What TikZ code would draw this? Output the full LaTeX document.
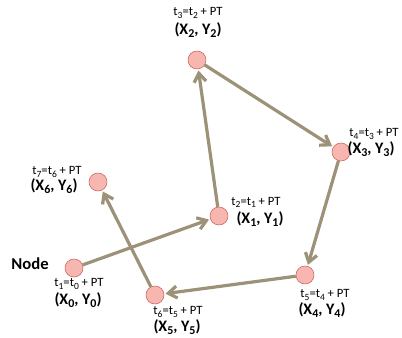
\documentclass[tikz,border=0pt]{standalone}
\usepackage{fontspec}
\setmainfont{Carlito}
\usetikzlibrary{arrows.meta}
\newcommand{\sbs}[1]{\raisebox{-0.35ex}{\scalebox{0.75}{#1}}}
\definecolor{pinkfill}{HTML}{F7B7B0}
\definecolor{pinkedge}{HTML}{C9625A}
\definecolor{flowcol}{HTML}{9C9278}
\begin{document}
\begin{tikzpicture}[x=0.75pt, y=-0.75pt, >={Straight Barb[length=6.5pt,width=9pt]},
	station/.style={circle, fill=pinkfill, draw=pinkedge, thin, minimum size=13.5pt, inner sep=0pt},
	flow/.style={->, draw=flowcol, line width=2.4pt, shorten >=1pt},
	timelbl/.style={font=\fontsize{9.5}{10}\selectfont, inner sep=0pt},
	poslbl/.style={font=\fontsize{12}{12}\selectfont\bfseries, inner sep=0pt}]
	\useasboundingbox (0,0) rectangle (402,337);
	% 1. stations
	\node[station] (n0) at (74, 268) {};
	\node[station] (n1) at (219, 216) {};
	\node[station] (n2) at (197, 60) {};
	\node[station] (n3) at (341, 152) {};
	\node[station] (n4) at (305, 275) {};
	\node[station] (n5) at (155, 295) {};
	\node[station] (n6) at (98, 182) {};
	
	% 2. route
	\draw[flow] (n0) -- (n1);
	\draw[flow] (n1) -- (n2);
	\draw[flow] (n2) -- (n3);
	\draw[flow] (n3) -- (n4);
	\draw[flow] (n4) -- (n5);
	\draw[flow] (n5) -- (n6);
	
	% 3. labels
	\node[font=\fontsize{12.5}{12}\selectfont\bfseries, inner sep=0pt] (title) at (30, 264) {Node};
	\node[timelbl] (t0) at (79, 284) {t\sbs{1}=t\sbs{0} + PT};
	\node[poslbl]  (p0) at (78, 300) {(X\sbs{0}, Y\sbs{0})};
	\node[timelbl] (t1) at (256, 202) {t\sbs{2}=t\sbs{1} + PT};
	\node[poslbl]  (p1) at (260, 219) {(X\sbs{1}, Y\sbs{1})};
	\node[timelbl] (t2) at (198, 13) {t\sbs{3}=t\sbs{2} + PT};
	\node[poslbl]  (p2) at (198, 30) {(X\sbs{2}, Y\sbs{2})};
	\node[timelbl] (t3) at (374, 134) {t\sbs{4}=t\sbs{3} + PT};
	\node[poslbl]  (p3) at (371, 149) {(X\sbs{3}, Y\sbs{3})};
	\node[timelbl] (t4) at (325, 295) {t\sbs{5}=t\sbs{4} + PT};
	\node[poslbl]  (p4) at (322, 310) {(X\sbs{4}, Y\sbs{4})};
	\node[timelbl] (t5) at (178, 312) {t\sbs{6}=t\sbs{5} + PT};
	\node[poslbl]  (p5) at (177, 327) {(X\sbs{5}, Y\sbs{5})};
	\node[timelbl] (t6) at (57, 172) {t\sbs{7}=t\sbs{6} + PT};
	\node[poslbl]  (p6) at (54, 186) {(X\sbs{6}, Y\sbs{6})};
\end{tikzpicture}
\end{document}
